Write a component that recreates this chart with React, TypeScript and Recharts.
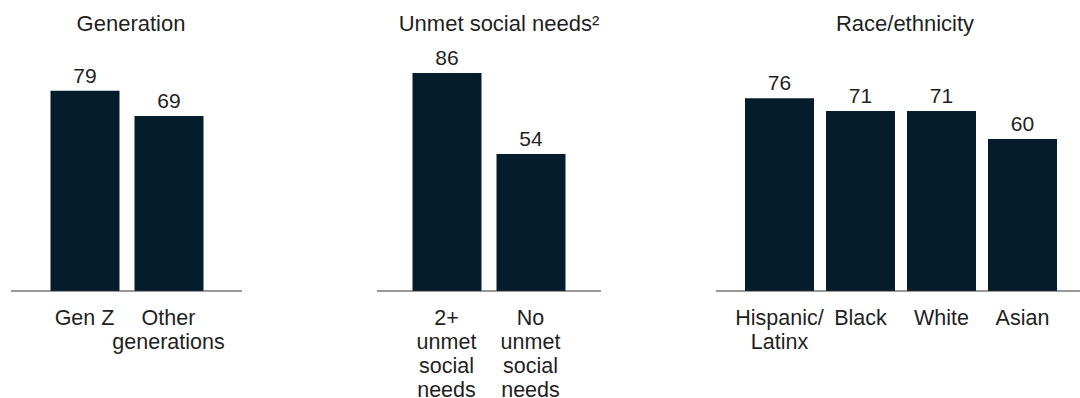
import { BarChart, Bar, XAxis, YAxis, LabelList } from 'recharts';

const generationLabels = ['Gen Z', 'Other\ngenerations'];
const generationValues = [79, 69];

const socialNeedsLabels = ['2+\nunmet\nsocial\nneeds', 'No\nunmet\nsocial\nneeds'];
const socialNeedsValues = [86, 54];

const raceLabels = ['Hispanic/\nLatinx', 'Black', 'White', 'Asian'];
const raceValues = [76, 71, 71, 60];

const BAR_COLOR = '#051c2c';
const TEXT_COLOR = '#1f1f1f';
const FONT = '"Liberation Sans", Arial, sans-serif';
const HEIGHT = 398;
const AXIS_Y = 291;
const PLOT_TOP = 37.5;

function CategoryTick({ x, y, payload }: any) {
  const lines = String(payload.value).split('\n');
  return (
    <text x={x} y={y + 34} textAnchor="middle" fill={TEXT_COLOR} fontSize={21.5} fontFamily={FONT}>
      {lines.map((line, i) => (
        <tspan key={i} x={x} dy={i === 0 ? 0 : 24}>
          {line}
        </tspan>
      ))}
    </text>
  );
}

interface PanelProps {
  left: number;
  width: number;
  padLeft: number;
  padRight: number;
  labels: string[];
  values: number[];
}

function Panel({ left, width, padLeft, padRight, labels, values }: PanelProps) {
  const data = labels.map((name, i) => ({ name, value: values[i] }));
  return (
    <div style={{ position: 'absolute', left, top: 0 }}>
      <BarChart
        width={width}
        height={HEIGHT}
        data={data}
        margin={{ top: PLOT_TOP, right: 0, bottom: 0, left: 0 }}
      >
        <XAxis
          dataKey="name"
          height={HEIGHT - AXIS_Y}
          padding={{ left: padLeft, right: padRight }}
          axisLine={{ stroke: '#333', strokeWidth: 1 }}
          tickLine={false}
          tickSize={0}
          tickMargin={0}
          interval={0}
          tick={<CategoryTick />}
        />
        <YAxis hide domain={[0, 100]} />
        <Bar dataKey="value" fill={BAR_COLOR} barSize={69} isAnimationActive={false}>
          <LabelList
            dataKey="value"
            position="top"
            offset={8}
            fill={TEXT_COLOR}
            fontSize={21}
            fontFamily={FONT}
          />
        </Bar>
      </BarChart>
    </div>
  );
}

const titles = [
  { text: 'Generation', x: 131 },
  { text: 'Unmet social needs²', x: 499 },
  { text: 'Race/ethnicity', x: 905 },
];

export default function App() {
  return (
    <div
      style={{
        position: 'absolute',
        left: 0,
        top: 0,
        width: 1080,
        height: HEIGHT,
        background: '#fff',
        fontFamily: FONT,
      }}
    >
      <Panel left={11} width={231} padLeft={31.5} padRight={31.5} labels={generationLabels} values={generationValues} />
      <Panel left={377} width={224} padLeft={27.5} padRight={28.5} labels={socialNeedsLabels} values={socialNeedsValues} />
      <Panel left={716} width={364} padLeft={23} padRight={17} labels={raceLabels} values={raceValues} />
      <svg width={1080} height={50} style={{ position: 'absolute', left: 0, top: 0 }}>
        {titles.map((t) => (
          <text key={t.text} x={t.x} y={31} textAnchor="middle" fill={TEXT_COLOR} fontSize={22} fontFamily={FONT}>
            {t.text}
          </text>
        ))}
      </svg>
    </div>
  );
}
